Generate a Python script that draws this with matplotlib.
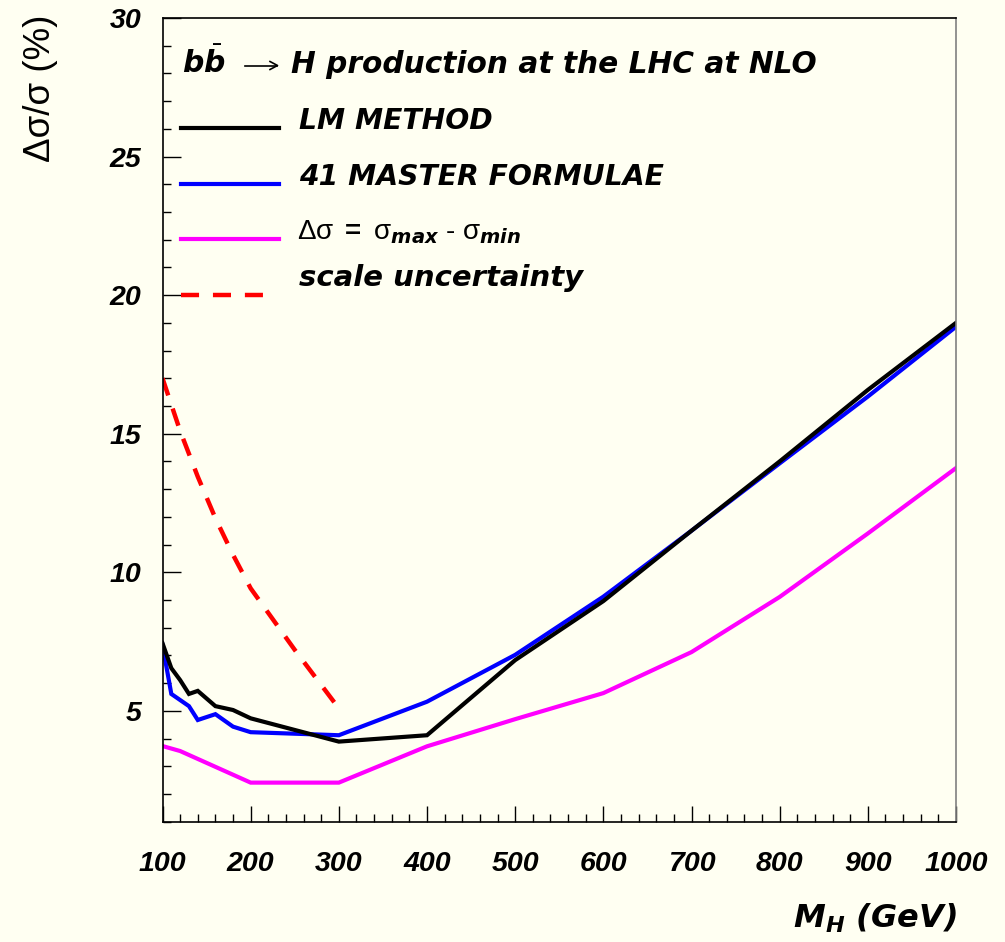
import matplotlib
matplotlib.use("Agg")
import matplotlib.pyplot as plt
from matplotlib.lines import Line2D
from matplotlib.ticker import MultipleLocator

# ---- data: relative uncertainty of the b bbar -> H cross section (%) vs Higgs mass (GeV)
mh_lm = [100, 110, 120, 130, 140, 160, 180, 200, 300, 400, 500, 600, 700, 800, 900, 1000]
lm_method = [7.44, 6.54, 6.11, 5.61, 5.72, 5.17, 5.03, 4.73, 3.89, 4.12, 6.83, 8.96, 11.5, 14.0, 16.58, 19.0]

mh_mf = [100, 110, 130, 140, 160, 180, 200, 300, 400, 500, 600, 700, 800, 900, 1000]
master_formulae = [7.38, 5.61, 5.17, 4.67, 4.88, 4.43, 4.23, 4.12, 5.33, 7.02, 9.12, 11.5, 13.93, 16.34, 18.86]

mh_span = [100, 120, 200, 300, 400, 500, 600, 700, 800, 900, 1000]
max_min_span = [3.73, 3.55, 2.41, 2.41, 3.72, 4.7, 5.64, 7.12, 9.11, 11.4, 13.76]

mh_scale = [100, 120, 140, 160, 180, 200, 250, 300]
scale_unc = [17.0, 15.1, 13.45, 11.95, 10.63, 9.42, 7.2, 5.09]

x_ticks = [100, 200, 300, 400, 500, 600, 700, 800, 900, 1000]
y_ticks = [5, 10, 15, 20, 25, 30]

# ---- style
plt.rcParams["mathtext.fontset"] = "custom"
plt.rcParams["mathtext.rm"] = "Liberation Sans"
plt.rcParams["mathtext.it"] = "Liberation Sans:italic"
plt.rcParams["mathtext.bf"] = "Liberation Sans:bold"
plt.rcParams["mathtext.bfit"] = "DejaVu Sans:bold:italic"
plt.rcParams["lines.scale_dashes"] = False

BG = "#FFFFF2"
W, H = 1005, 942
NUM = dict(family="Liberation Sans", fontweight="bold", fontstyle="italic", fontsize=20.5)
BI = dict(family="DejaVu Sans", fontweight="bold", fontstyle="italic")


def fx(x):
    return x / W


def fy(y):
    return 1 - y / H


fig = plt.figure(figsize=(W / 100, H / 100), dpi=100, facecolor=BG)
ax = fig.add_axes([fx(162.5), fy(821.7), (956 - 162.5) / W, (821.7 - 18) / H], facecolor=BG)

LW = 3.0
DASH = (13, 10)
ax.plot(mh_span, max_min_span, color="#FF00FF", lw=LW, solid_joinstyle="miter")
ax.plot(mh_mf, master_formulae, color="#0000FF", lw=LW, solid_joinstyle="miter")
ax.plot(mh_lm, lm_method, color="black", lw=LW, solid_joinstyle="miter")
ax.plot(mh_scale, scale_unc, color="#FF0000", lw=3.2, dashes=DASH)

ax.set_xlim(100, 1000)
ax.set_ylim(1, 30)
ax.xaxis.set_minor_locator(MultipleLocator(20))
ax.yaxis.set_minor_locator(MultipleLocator(1))
ax.set_xticks(x_ticks)
ax.set_yticks(y_ticks)
ax.set_xticklabels([str(v) for v in x_ticks], **NUM)
ax.set_yticklabels([str(v) for v in y_ticks], **NUM)
ax.tick_params(which="both", direction="in", top=False, right=False, width=1, color="black")
ax.tick_params(axis="x", which="major", length=11.5, pad=21)
ax.tick_params(axis="x", which="minor", length=5.6)
ax.tick_params(axis="y", which="major", length=13, pad=15)
ax.tick_params(axis="y", which="minor", length=6)

for side in ("left", "bottom", "top"):
    ax.spines[side].set_color("black")
    ax.spines[side].set_linewidth(1.2)
ax.spines["right"].set_color("#808080")
ax.spines["right"].set_linewidth(1.2)

# ---- axis titles
fig.text(fx(40), fy(88), "Δσ/σ (%)", rotation=90, ha="center", va="center",
         family="Liberation Sans", fontsize=26.5)
fig.text(fx(957), fy(928), r"M$_{\mathbfit{H}}$ (GeV)", ha="right", va="baseline",
         fontsize=23, **BI)

# ---- header: b bbar -> H ...
fig.text(fx(181.6), fy(73.3), r"$\mathbfit{b}\bar{\mathbfit{b}}$", va="baseline",
         fontsize=21.5, **BI)
fig.add_artist(Line2D([fx(245), fx(277)], [fy(65.5), fy(65.5)], transform=fig.transFigure,
                      color="black", lw=1.2))
fig.add_artist(Line2D([fx(270), fx(277.5), fx(270)], [fy(61.5), fy(65.5), fy(69.5)],
                      transform=fig.transFigure, color="black", lw=1.2))
fig.text(fx(291), fy(73.3), "H production at the LHC at NLO", va="baseline",
         fontsize=21.3, **BI)

# ---- key
key = [
    ("black", "solid", 128.3, "LM METHOD", 129.3),
    ("#0000FF", "solid", 184.0, "41 MASTER FORMULAE", 185.0),
    ("#FF00FF", "solid", 239.3, None, 239.3),
    ("#FF0000", "dashed", 295.0, "scale uncertainty", 286.0),
]
for color, style, ly, label, ty in key:
    if style == "dashed":
        ln = Line2D([fx(180.7), fx(266.5)], [fy(ly), fy(ly)], transform=fig.transFigure,
                    color=color, lw=3.2, dashes=DASH)
    else:
        ln = Line2D([fx(180.7), fx(278.7)], [fy(ly), fy(ly)], transform=fig.transFigure,
                    color=color, lw=LW)
    fig.add_artist(ln)
    if label is not None:
        fs = 21.0 if label.islower() else 20.3
        fig.text(fx(299), fy(ty), label, va="baseline", fontsize=fs, **BI)

fig.text(fx(297), fy(239.3),
         r"Δσ $\mathbf{=}$ σ$_{\mathbfit{max}}$ - σ$_{\mathbfit{min}}$",
         va="baseline", fontsize=20, family="Liberation Sans")

fig.savefig("out.png", dpi=100, facecolor=BG)
